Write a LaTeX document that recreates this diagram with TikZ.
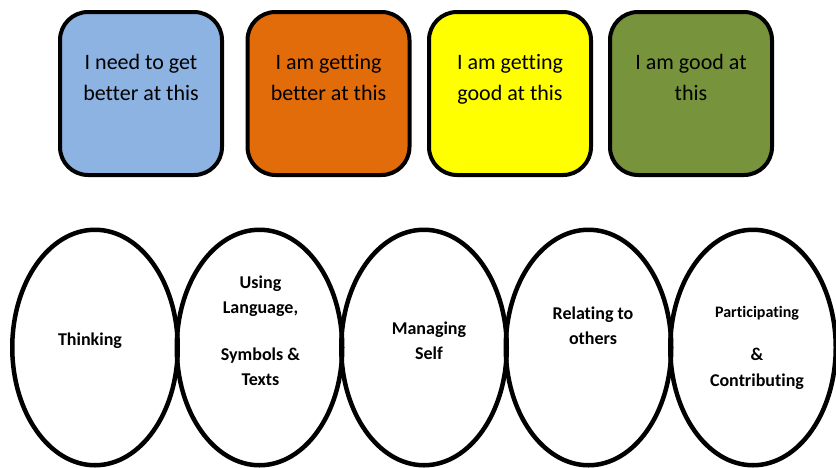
\documentclass[tikz,border=0pt]{standalone}
\usepackage{fontspec}
\setmainfont{Carlito}[Ligatures=NoCommon]
\usepackage{xcolor}
\usepackage{tikz}
\usetikzlibrary{shapes.geometric}
\definecolor{needblue}{HTML}{8DB3E2}
\definecolor{getorange}{HTML}{E36C0A}
\definecolor{goodyellow}{HTML}{FFFF00}
\definecolor{doneg}{HTML}{77933C}
\tikzset{
  level/.style={draw=black, line width=4pt, rounded corners=28pt, minimum width=162pt, minimum height=163pt, inner sep=0pt},
  leveltxt/.style={text=black, align=center, anchor=base, font=\fontsize{22}{31}\selectfont},
  comp/.style={ellipse, draw=black, line width=4.5pt, minimum width=165.5pt, minimum height=235.5pt, inner sep=0pt},
  comptxt/.style={text=black, align=center, font=\fontsize{18}{25.5}\selectfont\bfseries},
}

\begin{document}
\begin{tikzpicture}[x=1pt,y=-1pt]
  \useasboundingbox (0,0) rectangle (836,467);

  % progress levels
  \node[level, fill=needblue] (need) at (141,93.5) {};
  \node[level, fill=getorange] (getbetter) at (328.5,93.5) {};
  \node[level, fill=goodyellow] (getgood) at (510,93.5) {};
  \node[level, fill=doneg] (good) at (691,93.5) {};
  \node[leveltxt] at ([yshift=-7pt]need.center) {I need to get\\better at this};
  \node[leveltxt] at ([yshift=-7pt]getbetter.center) {I am getting\\better at this};
  \node[leveltxt] at ([yshift=-7pt]getgood.center) {I am getting\\good at this};
  \node[leveltxt] at ([yshift=-7pt]good.center) {I am good at\\this};

  % key competencies
  \node[comp] (think) at (95,347.5) {};
  \node[comp] (lang) at (259.5,347.5) {};
  \node[comp] (self) at (424,347.5) {};
  \node[comp] (relate) at (588.5,347.5) {};
  \node[comp] (part) at (753,347.5) {};
  \node[comptxt] at ([xshift=-5pt,yshift=7pt]think.center) {Thinking};
  \node[comptxt] at ([xshift=1pt,yshift=17pt]lang.center) {Using\\Language,\\[21pt]Symbols \&\\Texts};
  \node[comptxt] at ([xshift=5pt,yshift=7pt]self.center) {Managing\\Self};
  \node[comptxt] at ([xshift=4.5pt,yshift=22pt]relate.center) {Relating to\\others};
  \node[comptxt] at ([xshift=4pt,yshift=0pt]part.center) {{\fontsize{16}{25.5}\selectfont Participating}\\[18pt]\&\\Contributing};
\end{tikzpicture}
\end{document}
